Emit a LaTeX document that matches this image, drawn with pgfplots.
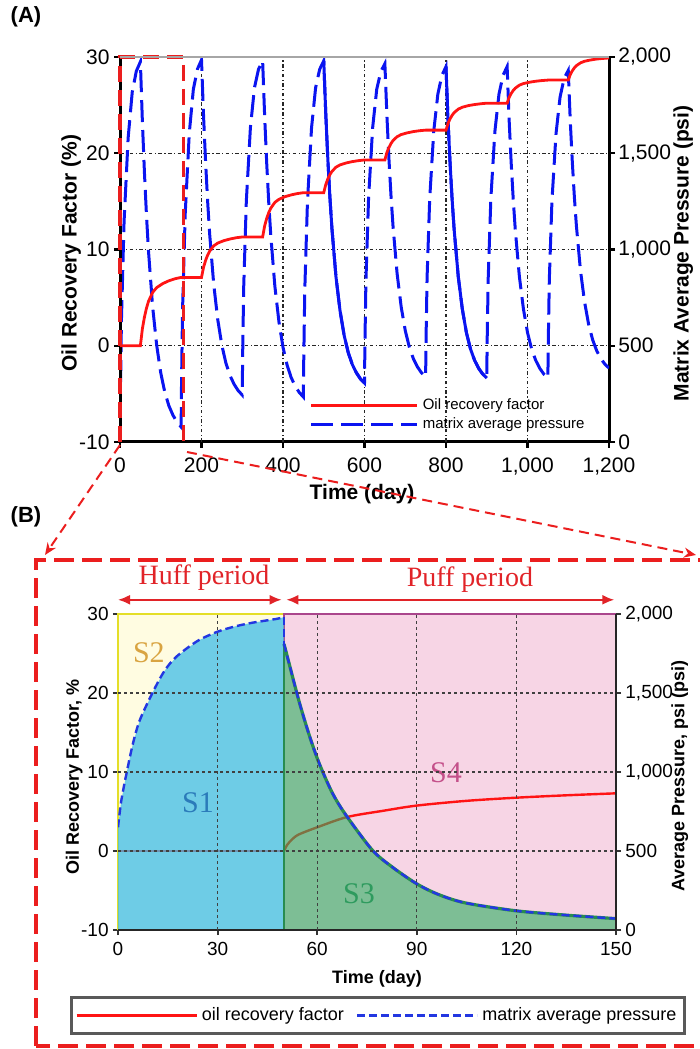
\documentclass[border=0pt]{standalone}
\usepackage{pgfplots}
\pgfplotsset{compat=1.18}
\usepackage{fontspec}
\setmainfont{Liberation Sans}
\newfontfamily\seriffont{Liberation Serif}
\usetikzlibrary{arrows.meta}

\definecolor{rfred}{RGB}{255,20,20}
\definecolor{pblue}{RGB}{10,20,240}
\definecolor{bblue}{RGB}{35,55,225}
\definecolor{huffbg}{RGB}{255,252,225}
\definecolor{huffborder}{RGB}{228,222,40}
\definecolor{puffbg}{RGB}{247,213,229}
\definecolor{puffborder}{RGB}{170,70,140}
\definecolor{sone}{RGB}{62,189,232}
\definecolor{sthree}{RGB}{44,176,97}
\definecolor{sthreeedge}{RGB}{40,140,80}
\definecolor{boxred}{RGB}{235,30,30}
\definecolor{textred}{RGB}{225,35,40}

\pgfplotsset{
  alegline/.style={legend image code/.code={\draw[##1] (0pt,0pt) -- (53pt,0pt);}},
  blegline/.style={legend image code/.code={\draw[##1] (0pt,0pt) -- (60pt,0pt);}},
}

\begin{document}
\begin{tikzpicture}
\useasboundingbox (0,0) rectangle (350pt,524.5pt);

% ---------------- Panel A : pressure (right axis) ----------------
\begin{axis}[
  at={(60pt,303.5pt)}, anchor=south west, scale only axis,
  width=244.5pt, height=192.5pt,
  xmin=0, xmax=1200, ymin=0, ymax=2000,
  axis x line*=bottom, axis y line*=right,
  axis line style={line width=1.5pt, black, -},
  tick align=outside, major tick length=3pt,
  major tick style={black, line width=1.2pt},
  xtick={0,200,400,600,800,1000,1200},
  xticklabels={0,200,400,600,800,{1,000},{1,200}},
  ytick={0,500,1000,1500,2000},
  yticklabels={0,500,{1,000},{1,500},{2,000}},
  extra x ticks={200,400,600,800,1000}, extra x tick labels={},
  extra y ticks={500,1000,1500}, extra y tick labels={},
  extra tick style={grid=major, major tick length=0pt},
  major grid style={black!85, line width=0.6pt, dash pattern=on 1.8pt off 1.2pt on 0.6pt off 1.2pt},
  tick label style={font=\fontsize{10.5}{12}\selectfont},
  yticklabel style={inner xsep=1.5pt},
  xticklabel style={yshift=-1.5pt},
  xlabel={Time (day)}, ylabel={Matrix Average Pressure (psi)},
  label style={font=\bfseries\fontsize{10.5}{12}\selectfont},
  xlabel style={at={(axis description cs:0.495,-0.135)}, anchor=center},
  ylabel style={at={(axis description cs:1.152,0.49)}, anchor=center},
]
\addplot[pblue, line width=1.5pt, dash pattern=on 11pt off 4pt] coordinates {
(0,0) (1,237) (3.5,632) (10,1146) (20,1580) (30,1817) (40,1926) (50,1975)
(55,1660) (60,1398) (65,1176) (70,990) (80,704) (90,503) (100,359) (110,258) (120,188) (130,139) (140,103) (150,78)
(151,307) (153.5,688) (160,1184) (170,1604) (180,1832) (190,1937) (200,1985)
(205,1696) (210,1456) (215,1252) (220,1081) (230,819) (240,634) (250,502) (260,409) (270,345) (280,300) (290,267) (300,244)
(301,452) (303.5,800) (310,1251) (320,1633) (330,1841) (340,1937) (350,1980)
(355,1690) (360,1449) (365,1245) (370,1074) (380,810) (390,625) (400,492) (410,400) (420,335) (430,290) (440,257) (450,234)
(451,444) (453.5,793) (460,1247) (470,1631) (480,1840) (490,1936) (500,1980)
(505,1702) (510,1471) (515,1275) (520,1111) (530,858) (540,681) (550,554) (560,465) (570,403) (580,360) (590,328) (600,306)
(601,505) (603.5,837) (610,1268) (620,1633) (630,1832) (640,1924) (650,1965)
(655,1695) (660,1470) (665,1280) (670,1121) (680,875) (690,702) (700,579) (710,493) (720,432) (730,390) (740,359) (750,338)
(751,530) (753.5,849) (760,1264) (770,1616) (780,1807) (790,1905) (800,1950)
(805,1669) (810,1448) (815,1260) (820,1103) (830,861) (840,691) (850,569) (860,484) (870,425) (880,383) (890,353) (900,332)
(901,524) (903.5,845) (910,1262) (920,1614) (930,1807) (940,1905) (950,1950)
(955,1669) (960,1448) (965,1260) (970,1103) (980,861) (990,691) (1000,569) (1010,484) (1020,425) (1030,383) (1040,353) (1050,332)
(1051,523) (1053.5,840) (1060,1253) (1070,1602) (1080,1793) (1090,1890) (1100,1930)
(1105,1665) (1110,1453) (1115,1273) (1120,1123) (1130,891) (1140,728) (1150,611) (1160,530) (1170,473) (1180,433) (1190,404) (1200,384)
};
\addplot[pblue, line width=1.5pt, solid] coordinates {
(500,1980) (505,1702) (510,1471) (515,1275) (520,1111) (530,858) (540,681) (550,554) (560,465) (570,403) (580,360) (590,328) (600,306)
};
\addplot[pblue, line width=1.5pt, solid] coordinates {
(800,1950) (805,1669) (810,1448) (815,1260) (820,1103) (830,861) (840,691) (850,569) (860,484) (870,425) (880,383) (890,353) (900,332)
};
\end{axis}

% ---------------- Panel A : recovery (left axis) ----------------
\begin{axis}[
  at={(60pt,303.5pt)}, anchor=south west, scale only axis,
  width=244.5pt, height=192.5pt,
  xmin=0, xmax=1200, ymin=-10, ymax=30,
  axis x line=none, axis y line*=left,
  axis line style={line width=1.5pt, black, -},
  tick align=outside, major tick length=3pt,
  major tick style={black, line width=1.2pt},
  ytick={-10,0,10,20,30}, yticklabels={-10,0,10,20,30},
  tick label style={font=\fontsize{10.5}{12}\selectfont},
  yticklabel style={inner xsep=2pt},
  ylabel={Oil Recovery Factor (\%)},
  label style={font=\bfseries\fontsize{10.5}{12}\selectfont},
  ylabel style={at={(axis description cs:-0.1,0.49)}, anchor=center},
  clip=false,
  legend cell align=left,
  legend style={at={(axis description cs:0.375,0.07)}, anchor=west, draw=none, fill=none,
    font=\fontsize{7.5}{8}\selectfont, row sep=-1.5pt},
]
\addplot[rfred, line width=1.4pt, alegline] coordinates {
(0,0) (50,0) (52,0.71) (55,1.78) (60,2.98) (65,3.91) (70,4.62) (80,5.54) (90,6.04) (105,6.46) (120,6.75) (135,6.96) (150,7.1)
(200,7.1) (202,7.52) (205,8.15) (210,8.86) (215,9.41) (220,9.83) (230,10.38) (240,10.67) (255,10.92) (270,11.09) (285,11.22) (300,11.3)
(350,11.3) (352,11.76) (355,12.45) (360,13.23) (365,13.83) (370,14.29) (380,14.89) (390,15.21) (405,15.49) (420,15.67) (435,15.81) (450,15.9)
(500,15.9) (502,16.24) (505,16.75) (510,17.33) (515,17.77) (520,18.11) (530,18.55) (540,18.79) (555,18.99) (570,19.13) (585,19.23) (600,19.3)
(650,19.3) (652,19.61) (655,20.08) (660,20.6) (665,21.01) (670,21.32) (680,21.72) (690,21.94) (705,22.12) (720,22.25) (735,22.34) (750,22.4)
(800,22.4) (802,22.68) (805,23.1) (810,23.58) (815,23.94) (820,24.22) (830,24.58) (840,24.78) (855,24.95) (870,25.06) (885,25.14) (900,25.2)
(950,25.2) (952,25.44) (955,25.8) (960,26.21) (965,26.52) (970,26.76) (980,27.07) (990,27.24) (1005,27.38) (1020,27.48) (1035,27.55) (1050,27.6)
(1100,27.6) (1102,27.83) (1105,28.18) (1110,28.57) (1115,28.87) (1120,29.1) (1130,29.39) (1140,29.56) (1155,29.69) (1170,29.79) (1185,29.85) (1200,29.9)
};
\addlegendentry{Oil recovery factor}
\addlegendimage{pblue, line width=1.5pt, dash pattern=on 11pt off 4pt, alegline}
\addlegendentry{matrix average pressure}
\addplot[boxred, line width=1.6pt, dash pattern=on 8pt off 4pt, forget plot] coordinates {(0,-10) (0,30) (155,30) (155,-10)};
\draw[gray!70, line width=0.8pt] (rel axis cs:0,1) -- (rel axis cs:1,1);
\end{axis}

% ---------------- Panel B : recovery (left axis) + backgrounds ----------------
\begin{axis}[
  at={(59pt,59.5pt)}, anchor=south west, scale only axis,
  width=249pt, height=158pt,
  xmin=0, xmax=150, ymin=-10, ymax=30,
  axis x line*=bottom, axis y line*=left,
  axis line style={line width=1pt, black!85, -},
  tick align=outside, major tick length=2.5pt,
  major tick style={black!80, line width=0.9pt},
  xtick={0,30,60,90,120,150}, xticklabels={0,30,60,90,120,150},
  ytick={-10,0,10,20,30}, yticklabels={-10,0,10,20,30},
  tick label style={font=\fontsize{9.5}{11}\selectfont},
  yticklabel style={inner xsep=2pt},
  xlabel={Time (day)}, ylabel={Oil Recovery Factor, \%},
  label style={font=\bfseries\fontsize{9}{11}\selectfont},
  xlabel style={at={(axis description cs:0.52,-0.155)}, anchor=center},
  ylabel style={at={(axis description cs:-0.088,0.484)}, anchor=center},
  clip=false,
]
\addplot[fill=huffbg, draw=huffborder, line width=1.2pt] coordinates {(0,-10) (0,30) (50,30) (50,-10) (0,-10)};
\addplot[fill=puffbg, draw=puffborder, line width=1.2pt] coordinates {(50,-10) (50,30) (150,30) (150,-10) (50,-10)};
\addplot[rfred, line width=1.2pt] coordinates {(0,0) (50,0)};
\addplot[rfred, line width=1.2pt, smooth] coordinates {
(50,0) (51,0.8) (52.5,1.5) (54.5,2.1) (60,3.0) (69,4.3) (80,5.1) (90,5.75) (105,6.35) (120,6.75) (135,7.05) (150,7.3)
};
\draw[textred, line width=1pt, {Latex[length=6pt,width=5pt]}-{Latex[length=6pt,width=5pt]}] (axis cs:0,31.8) -- (axis cs:49.3,31.8);
\draw[textred, line width=1pt, {Latex[length=6pt,width=5pt]}-{Latex[length=6pt,width=5pt]}] (axis cs:50.7,31.8) -- (axis cs:149.5,31.8);
\node[textred, font=\seriffont\fontsize{14}{15}\selectfont] at (axis cs:25.9,34.6) {Huff period};
\node[textred, font=\seriffont\fontsize{14}{15}\selectfont] at (axis cs:106,34.4) {Puff period};
\end{axis}

% ---------------- Panel B : pressure (right axis) ----------------
\begin{axis}[
  at={(59pt,59.5pt)}, anchor=south west, scale only axis,
  width=249pt, height=158pt,
  xmin=0, xmax=150, ymin=0, ymax=2000,
  axis x line*=bottom, axis y line*=right,
  axis on top,
  axis line style={line width=1.2pt, black!85, -},
  tick align=outside, major tick length=2.5pt,
  major tick style={black!80, line width=0.9pt},
  xtick={0,30,60,90,120,150}, xticklabels={},
  ytick={0,500,1000,1500,2000}, yticklabels={0,500,{1,000},{1,500},{2,000}},
  extra x ticks={30,60,90,120}, extra x tick labels={},
  extra y ticks={500,1000,1500}, extra y tick labels={},
  extra tick style={grid=major, major tick length=0pt},
  major grid style={black!75, line width=0.6pt, dash pattern=on 1.5pt off 1.5pt},
  tick label style={font=\fontsize{9.5}{11}\selectfont},
  yticklabel style={inner xsep=2pt},
  ylabel={Average Pressure, psi (psi)},
  label style={font=\bfseries\fontsize{9}{11}\selectfont},
  ylabel style={at={(axis description cs:1.128,0.487)}, anchor=center},
  legend columns=2,
  legend style={at={(axis description cs:0.522,-0.27)}, anchor=center,
    draw=black!65, line width=1.2pt, fill=white,
    font=\fontsize{9}{10.5}\selectfont, inner xsep=2pt, inner ysep=3pt,
    /tikz/every even column/.append style={column sep=4pt}},
]
\addlegendimage{rfred, line width=1.2pt, blegline}
\addlegendentry{oil recovery factor}
\addplot[fill=sone, fill opacity=0.75, draw=none, forget plot] coordinates {
(0,0) (0,650) (1,820) (2.6,995) (4.5,1180) (6.6,1330) (10.6,1510) (14,1640) (17.6,1730) (24,1830) (30,1888) (35,1920) (40,1943) (45,1960) (48,1970) (50,1980) (50,0)
};
\addplot[fill=sthree, fill opacity=0.6, draw=none, forget plot] coordinates {
(50,0) (50,1810) (51.5,1690) (54.5,1450) (57.5,1240) (60.5,1060) (64.5,870) (68.5,732) (76.5,508) (82.5,400) (90,292) (96.5,225) (104.5,172) (119.7,122) (135,94) (150,72) (150,0) (50,0)
};
\addplot[sthreeedge, line width=1pt, forget plot] coordinates {(50,0) (50,1810)};
\addplot[sthreeedge, line width=1.6pt, smooth, forget plot] coordinates {
(50,1810) (51.5,1690) (54.5,1450) (57.5,1240) (60.5,1060) (64.5,870) (68.5,732) (76.5,508) (82.5,400) (90,292) (96.5,225) (104.5,172) (119.7,122) (135,94) (150,72)
};
\addplot[bblue, line width=1.2pt, dash pattern=on 4pt off 2pt, smooth, forget plot] coordinates {
(0,650) (1,820) (2.6,995) (4.5,1180) (6.6,1330) (10.6,1510) (14,1640) (17.6,1730) (24,1830) (30,1888) (35,1920) (40,1943) (45,1960) (48,1970) (50,1980)
};
\addplot[bblue, line width=1.2pt, dash pattern=on 4pt off 2pt, forget plot] coordinates {(50,1980) (50,1810)};
\addplot[bblue, line width=1.2pt, dash pattern=on 4pt off 2pt, smooth, blegline] coordinates {
(50,1810) (51.5,1690) (54.5,1450) (57.5,1240) (60.5,1060) (64.5,870) (68.5,732) (76.5,508) (82.5,400) (90,292) (96.5,225) (104.5,172) (119.7,122) (135,94) (150,72)
};
\addlegendentry{matrix average pressure}
\node[text={rgb,255:red,43;green,123;blue,186}, font=\seriffont\fontsize{15}{16}\selectfont] at (axis cs:24.1,805) {S1};
\node[text={rgb,255:red,217;green,164;blue,65}, font=\seriffont\fontsize{15}{16}\selectfont] at (axis cs:9.3,1755) {S2};
\node[text={rgb,255:red,46;green,155;blue,94}, font=\seriffont\fontsize{15}{16}\selectfont] at (axis cs:72.6,230) {S3};
\node[text={rgb,255:red,196;green,80;blue,138}, font=\seriffont\fontsize{15}{16}\selectfont] at (axis cs:98.8,995) {S4};
\end{axis}

% ---------------- labels and zoom pointers ----------------
\node[font=\bfseries\fontsize{11}{13}\selectfont] at (13pt,516pt) {(A)};
\node[font=\bfseries\fontsize{11}{13}\selectfont] at (13pt,266pt) {(B)};
\draw[boxred, line width=1pt, dash pattern=on 5pt off 3pt, -{Stealth[length=6pt,width=5pt]}] (60pt,302pt) -- (22.5pt,247pt);
\draw[boxred, line width=1pt, dash pattern=on 5pt off 3pt, -{Stealth[length=6pt,width=5pt]}] (93.5pt,298.5pt) -- (348pt,247pt);
\draw[boxred, line width=2.2pt, dash pattern=on 10pt off 4pt] (18pt,1.5pt) rectangle (352.5pt,244.5pt);
\end{tikzpicture}
\end{document}
